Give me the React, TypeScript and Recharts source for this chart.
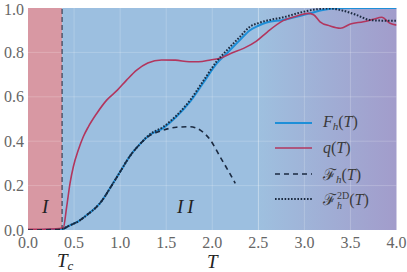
import React from 'react';
import {
  ComposedChart,
  Line,
  XAxis,
  YAxis,
  ReferenceArea,
  ReferenceLine,
  ReferenceDot,
  Legend,
} from 'recharts';

// ---------- data ----------
const X_TICKS = [0, 0.5, 1, 1.5, 2, 2.5, 3, 3.5, 4];
const Y_TICKS = [0, 0.2, 0.4, 0.6, 0.8, 1.0];
const T_C = 0.37;
const REGION_SPLIT = 2.5;

const FH_T = [0, 0.2, 0.37, 0.45, 0.55, 0.64, 0.78, 0.93, 1.0, 1.07, 1.11, 1.2, 1.32, 1.47, 1.61, 1.76, 1.9, 2.05, 2.16, 2.3, 2.41, 2.5, 2.59, 2.77, 2.95, 3.06, 3.2, 3.35, 3.5, 4.0];
const FH_V = [0, 0.001, 0.004, 0.02, 0.04, 0.068, 0.12, 0.215, 0.262, 0.31, 0.335, 0.38, 0.428, 0.46, 0.51, 0.578, 0.661, 0.751, 0.796, 0.856, 0.9, 0.92, 0.935, 0.946, 0.964, 0.976, 0.991, 0.999, 1.0, 1.0];

const Q_T = [0, 0.1, 0.2, 0.3, 0.383, 0.42, 0.456, 0.492, 0.546, 0.6, 0.655, 0.746, 0.854, 0.97, 1.07, 1.18, 1.3, 1.45, 1.6, 1.75, 1.85, 1.98, 2.1, 2.2, 2.34, 2.48, 2.6, 2.77, 2.92, 3.04, 3.1, 3.17, 3.28, 3.39, 3.5, 3.64, 3.75, 3.84, 3.93, 4.0];
const Q_V = [0.003, 0.003, 0.004, 0.005, 0.01, 0.105, 0.21, 0.285, 0.36, 0.42, 0.465, 0.525, 0.585, 0.63, 0.675, 0.72, 0.752, 0.766, 0.765, 0.758, 0.758, 0.766, 0.776, 0.795, 0.818, 0.851, 0.893, 0.943, 0.964, 0.976, 0.97, 0.938, 0.919, 0.909, 0.928, 0.938, 0.949, 0.958, 0.931, 0.923];

const DASH_T = [0, 0.2, 0.37, 0.45, 0.55, 0.64, 0.78, 0.93, 1.0, 1.07, 1.11, 1.2, 1.32, 1.4, 1.47, 1.61, 1.76, 1.87, 1.98, 2.085, 2.19, 2.25];
const DASH_V = [0, 0.001, 0.004, 0.02, 0.04, 0.068, 0.12, 0.215, 0.262, 0.31, 0.335, 0.38, 0.425, 0.44, 0.45, 0.463, 0.465, 0.45, 0.405, 0.33, 0.255, 0.21];

const DOT_T = [0.37, 0.45, 0.55, 0.64, 0.78, 0.93, 1.0, 1.07, 1.11, 1.2, 1.32, 1.47, 1.61, 1.76, 1.9, 2.05, 2.16, 2.3, 2.41, 2.5, 2.59, 2.77, 2.95, 3.13, 3.28, 3.42, 3.57, 3.71, 3.86, 4.0];
const DOT_V = [0.004, 0.02, 0.04, 0.068, 0.12, 0.215, 0.262, 0.31, 0.335, 0.38, 0.43, 0.465, 0.515, 0.585, 0.67, 0.76, 0.81, 0.87, 0.916, 0.932, 0.943, 0.958, 0.979, 0.994, 0.998, 0.988, 0.968, 0.946, 0.943, 0.943];

const zip = (ts: number[], vs: number[]) => ts.map((T, i) => ({ T, v: vs[i] }));
const fhData = zip(FH_T, FH_V);
const qData = zip(Q_T, Q_V);
const dashData = zip(DASH_T, DASH_V);
const dotData = zip(DOT_T, DOT_V);

// ---------- styles ----------
const SERIF = '"Liberation Serif", "DejaVu Serif", serif';
const C_PINK = '#d898a3';
const C_BLUE = '#9cbfe0';
const C_FH = '#1e8fd8';
const C_Q = '#b2365e';
const C_DARK = '#1b2a40';
const C_TICK = '#666666';

const LEGEND_ITEMS = [
  { key: 'fh', color: C_FH, dash: undefined, width: 2 },
  { key: 'q', color: C_Q, dash: undefined, width: 1.6 },
  { key: 'dash', color: C_DARK, dash: '5 4', width: 1.6 },
  { key: 'dot', color: C_DARK, dash: '1.6 1.6', width: 2 },
];

const sub: React.CSSProperties = { fontSize: 11, verticalAlign: '-0.3em', fontStyle: 'italic' };

function legendLabel(key: string) {
  if (key === 'fh')
    return (
      <span>
        <i>F</i>
        <span style={sub}>h</span>(<i>T</i>)
      </span>
    );
  if (key === 'q')
    return (
      <span>
        <i>q</i>(<i>T</i>)
      </span>
    );
  if (key === 'dash')
    return (
      <span>
        <span>ℱ</span>
        <span style={sub}>h</span>(<i>T</i>)
      </span>
    );
  return (
    <span>
      <span>ℱ</span>
      <span
        style={{
          display: 'inline-flex',
          flexDirection: 'column',
          fontSize: 10,
          lineHeight: '10px',
          verticalAlign: 'middle',
          marginLeft: 1,
        }}
      >
        <span style={{ fontStyle: 'normal' }}>2D</span>
        <span style={{ fontStyle: 'italic' }}>h</span>
      </span>
      (<i>T</i>)
    </span>
  );
}

const LegendContent = () => (
  <div style={{ fontFamily: SERIF, fontSize: 16, color: '#3a3a3a' }}>
    {LEGEND_ITEMS.map((it) => (
      <div key={it.key} style={{ display: 'flex', alignItems: 'center', height: 25.5 }}>
        <svg width={37} height={6} style={{ marginRight: 11 }}>
          <line x1={0} y1={3} x2={37} y2={3} stroke={it.color} strokeWidth={it.width} strokeDasharray={it.dash} />
        </svg>
        {legendLabel(it.key)}
      </div>
    ))}
  </div>
);

const TcLabel = (props: any) => {
  const vb = props.viewBox || {};
  return (
    <text
      x={vb.x + 3}
      y={vb.y + vb.height + 37}
      textAnchor="middle"
      style={{ fontFamily: SERIF, fontStyle: 'italic', fontSize: 19 }}
      fill="#222"
    >
      T
      <tspan fontSize={13} dy={3}>
        c
      </tspan>
    </text>
  );
};

const labelStyle = { fontFamily: SERIF, fontStyle: 'italic', fontSize: 19, fill: '#222' };
const tickStyle = { fill: C_TICK, fontSize: 16, fontFamily: SERIF };

export default function App() {
  return (
    <div style={{ position: 'absolute', left: 0, top: 0, fontFamily: SERIF }}>
      <ComposedChart width={407} height={272} margin={{ top: 8, right: 10.5, bottom: 0, left: 0 }}>
        <defs>
          <linearGradient id="bgGrad" x1="0" y1="0" x2="1" y2="0">
            <stop offset="0%" stopColor="#9ec0df" />
            <stop offset="100%" stopColor="#a29ccb" />
          </linearGradient>
        </defs>
        <XAxis
          type="number"
          dataKey="T"
          domain={[0, 4]}
          ticks={X_TICKS}
          tickFormatter={(v: number) => v.toFixed(1)}
          axisLine={false}
          tickLine={false}
          tickSize={0}
          tickMargin={7}
          height={42}
          allowDataOverflow
          tick={tickStyle}
          label={{ value: 'T', position: 'insideBottom', offset: 4, style: labelStyle }}
        />
        <YAxis
          type="number"
          domain={[0, 1]}
          ticks={Y_TICKS}
          tickFormatter={(v: number) => v.toFixed(1)}
          axisLine={false}
          tickLine={false}
          tickSize={0}
          tickMargin={4}
          width={28}
          allowDataOverflow
          tick={tickStyle}
        />
        <ReferenceArea
          x1={0}
          x2={T_C}
          y1={0}
          y2={1}
          fill={C_PINK}
          fillOpacity={1}
          stroke="none"
          label={{ value: 'I', position: 'insideBottom', offset: 17, style: labelStyle }}
        />
        <ReferenceArea x1={T_C} x2={REGION_SPLIT} y1={0} y2={1} fill={C_BLUE} fillOpacity={1} stroke="none" />
        <ReferenceArea x1={REGION_SPLIT} x2={4} y1={0} y2={1} fill="url(#bgGrad)" fillOpacity={1} stroke="none" />
        {X_TICKS.slice(1, -1).map((x) => (
          <ReferenceLine key={'gx' + x} x={x} stroke="#ffffff" strokeOpacity={0.2} strokeWidth={1} />
        ))}
        {Y_TICKS.slice(1, -1).map((y) => (
          <ReferenceLine key={'gy' + y} y={y} stroke="#ffffff" strokeOpacity={0.2} strokeWidth={1} />
        ))}
        <ReferenceLine
          x={T_C}
          stroke="#3a3f55"
          strokeDasharray="5 3"
          strokeWidth={1.2}
          label={<TcLabel />}
        />
        <ReferenceDot
          x={1.73}
          y={0}
          r={0}
          fill="none"
          stroke="none"
          label={{ value: 'II', position: 'top', offset: 17, style: { ...labelStyle, letterSpacing: 4 } }}
        />
        <Line data={fhData} dataKey="v" type="monotone" stroke={C_FH} strokeWidth={2} dot={false} activeDot={false} isAnimationActive={false} />
        <Line data={qData} dataKey="v" type="monotone" stroke={C_Q} strokeWidth={1.6} dot={false} activeDot={false} isAnimationActive={false} />
        <Line data={dashData} dataKey="v" type="monotone" stroke={C_DARK} strokeWidth={1.6} strokeDasharray="5 4" dot={false} activeDot={false} isAnimationActive={false} />
        <Line data={dotData} dataKey="v" type="monotone" stroke={C_DARK} strokeWidth={2} strokeDasharray="1.6 1.6" dot={false} activeDot={false} isAnimationActive={false} />
        <Legend
          layout="vertical"
          align="center"
          verticalAlign="middle"
          content={<LegendContent />}
          wrapperStyle={{ left: 275, top: 110, width: 130, height: 102 }}
        />
      </ComposedChart>
    </div>
  );
}
